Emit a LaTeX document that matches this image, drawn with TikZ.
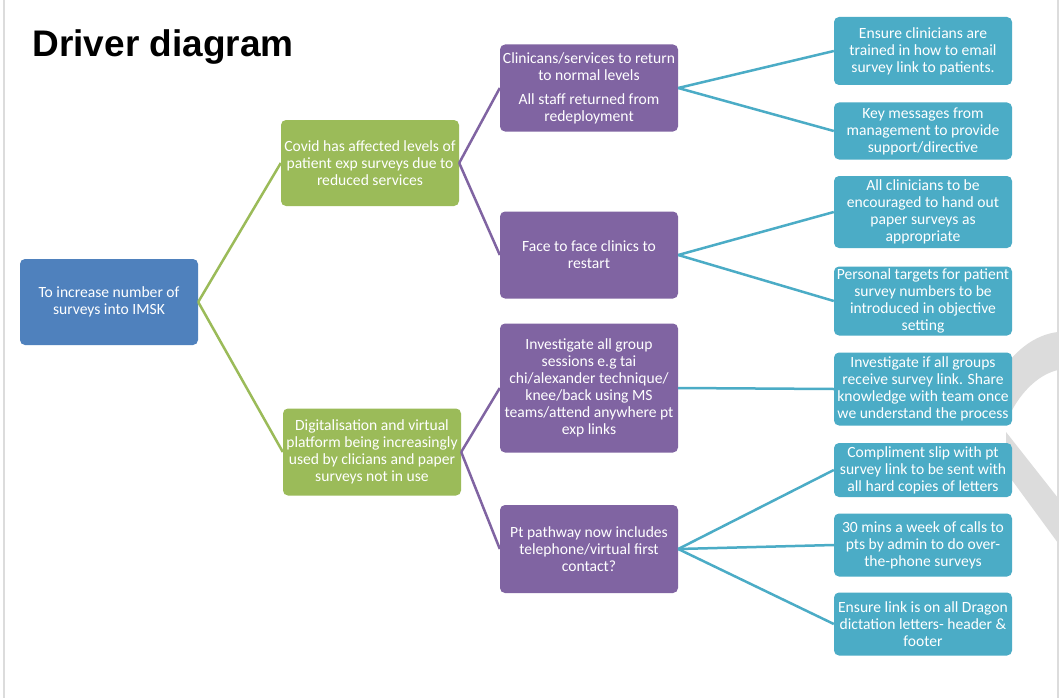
\documentclass[tikz,border=0pt]{standalone}
\usepackage{fontspec}
\setmainfont{Carlito}
\newfontfamily\titlefont{Liberation Sans}
\definecolor{goalblue}{HTML}{4F81BD}
\definecolor{drvgreen}{HTML}{9BBB59}
\definecolor{secpurple}{HTML}{8064A2}
\definecolor{chcyan}{HTML}{4BACC6}
\definecolor{edgegray}{HTML}{DCDCDC}

\begin{document}
\begin{tikzpicture}[x=1pt,y=-1pt,
		box/.style={rounded corners=5pt, text=white, align=center, inner sep=0pt,
			minimum width=178pt, font=\fontsize{15.6}{17}\selectfont},
		goalbox/.style={box, fill=goalblue},
		drvbox/.style={box, fill=drvgreen},
		secbox/.style={box, fill=secpurple},
		chbox/.style={box, fill=chcyan},
		drvline/.style={drvgreen, line width=2.5pt},
		secline/.style={secpurple, line width=2.5pt},
		chline/.style={chcyan, line width=2.5pt}]
			\useasboundingbox[fill=white] (0,0) rectangle (1064,698);
			% page edges and the grey mark behind the boxes
			\draw[edgegray, line width=2pt] (4,0) -- (4,698);
			\fill[edgegray] (1004,368) .. controls (1020,345) and (1040,334) .. (1058,332)
				-- (1058,370) .. controls (1040,374) and (1022,390) .. (1010,414) -- cycle;
			\fill[edgegray] (1006,432) -- (1058,498) -- (1058,543) -- (1006,472) -- cycle;
			\draw[edgegray, line width=2pt] (1058,0) -- (1058,698);
			\node[anchor=base west, font=\titlefont\bfseries\fontsize{37}{40}\selectfont] (title) at (29,57) {Driver diagram};
			% aim
			\node[goalbox, minimum height=86pt] (aim) at (109,302) {To increase number of\\surveys into IMSK};
			% primary drivers
			\node[drvbox, minimum height=86pt] (drvA) at (370,163) {Covid has affected levels of\\patient exp surveys due to\\reduced services};
			\node[drvbox, minimum height=87pt] (drvB) at (372,452) {Digitalisation and virtual\\platform being increasingly\\used by clicians and paper\\surveys not in use};
			% secondary drivers
			\node[secbox, minimum height=87pt] (secA) at (589,88) {Clinicans/services to return\\to normal levels\\[7pt]All staff returned from\\redeployment};
			\node[secbox, minimum height=87pt] (secB) at (589,255) {Face to face clinics to\\restart};
			\node[secbox, minimum height=129pt] (secC) at (589,388) {Investigate all group\\sessions e.g tai\\chi/alexander technique/\\knee/back using MS\\teams/attend anywhere pt\\exp links};
			\node[secbox, minimum height=88pt] (secD) at (589,549) {Pt pathway now includes\\telephone/virtual first\\contact?};
			% change ideas
			\node[chbox, minimum height=68pt] (chA) at (923,51) {Ensure clinicians are\\trained in how to email\\survey link to patients.};
			\node[chbox, minimum height=57pt] (chB) at (923,131) {Key messages from\\management to provide\\support/directive};
			\node[chbox, minimum height=72pt] (chC) at (923,212) {All clinicians to be\\encouraged to hand out\\paper surveys as\\appropriate};
			\node[chbox, minimum height=69pt] (chD) at (923,301) {Personal targets for patient\\survey numbers to be\\introduced in objective\\setting};
			\node[chbox, minimum height=73pt] (chE) at (923,389) {Investigate if all groups\\receive survey link. Share\\knowledge with team once\\we understand the process};
			\node[chbox, minimum height=54pt] (chF) at (923,470) {Compliment slip with pt\\survey link to be sent with\\all hard copies of letters};
			\node[chbox, minimum height=63pt] (chG) at (923,545) {30 mins a week of calls to\\pts by admin to do over-\\the-phone surveys};
			\node[chbox, minimum height=63pt] (chH) at (923,624) {Ensure link is on all Dragon\\dictation letters- header \&\\footer};
			% connectors
			\draw[drvline] (aim.east) -- (drvA.west);
			\draw[drvline] (aim.east) -- (drvB.west);
			\draw[secline] (drvA.east) -- (secA.west);
			\draw[secline] (drvA.east) -- (secB.west);
			\draw[secline] (drvB.east) -- (secC.west);
			\draw[secline] (drvB.east) -- (secD.west);
			\draw[chline] (secA.east) -- (chA.west);
			\draw[chline] (secA.east) -- (chB.west);
			\draw[chline] (secB.east) -- (chC.west);
			\draw[chline] (secB.east) -- (chD.west);
			\draw[chline] (secC.east) -- (chE.west);
			\draw[chline] (secD.east) -- (chF.west);
			\draw[chline] (secD.east) -- (chG.west);
			\draw[chline] (secD.east) -- (chH.west);
		\end{tikzpicture}
\end{document}
